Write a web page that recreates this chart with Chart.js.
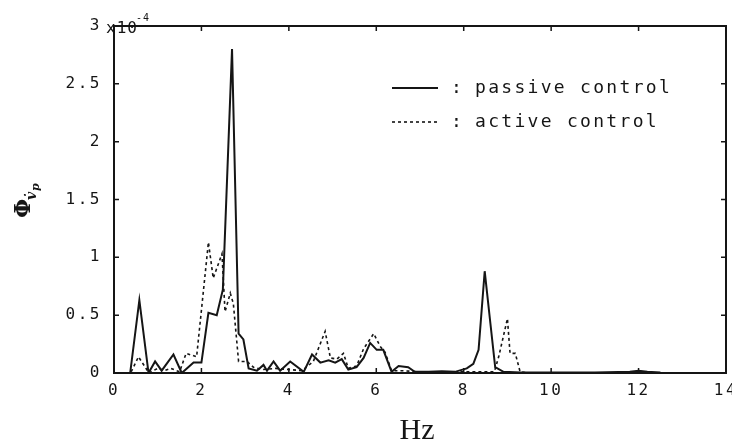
<!DOCTYPE html>
<html>
<head>
<meta charset="utf-8">
<script src="https://cdn.jsdelivr.net/npm/chart.js@4"></script>
<style>
  html, body { margin: 0; padding: 0; background: #fff; }
  #wrap { width: 732px; height: 443px; }
</style>
</head>
<body>
<div id="wrap"><canvas id="spectrum"></canvas></div>
<script>
// spectrum values in units of 1e-4
const passiveHz = [0, 0.37, 0.58, 0.79, 0.94, 1.09, 1.36, 1.55, 1.82, 2.0, 2.16, 2.35, 2.49, 2.7, 2.85, 2.96, 3.08, 3.27, 3.42, 3.5, 3.65, 3.8, 4.03, 4.34, 4.53, 4.72, 4.91, 5.06, 5.21, 5.36, 5.55, 5.71, 5.86, 6.01, 6.16, 6.35, 6.51, 6.73, 6.88, 7.2, 7.5, 7.8, 8.07, 8.22, 8.34, 8.48, 8.61, 8.72, 8.91, 9.3, 10, 11, 11.8, 12.0, 12.2, 12.5];
const passiveVal = [0, 0, 0.63, 0, 0.1, 0.02, 0.16, 0, 0.09, 0.09, 0.52, 0.5, 0.72, 2.8, 0.34, 0.29, 0.04, 0.02, 0.07, 0.02, 0.1, 0.02, 0.1, 0.01, 0.16, 0.09, 0.11, 0.09, 0.12, 0.03, 0.05, 0.13, 0.26, 0.2, 0.2, 0.01, 0.06, 0.05, 0.01, 0.01, 0.015, 0.01, 0.04, 0.08, 0.2, 0.88, 0.43, 0.05, 0.01, 0.005, 0.005, 0.005, 0.01, 0.02, 0.01, 0.005];

const activeHz = [0, 0.38, 0.56, 0.8, 1.0, 1.15, 1.3, 1.5, 1.65, 1.89, 2.16, 2.27, 2.47, 2.54, 2.66, 2.73, 2.85, 3.04, 3.19, 3.4, 3.7, 4.0, 4.3, 4.56, 4.83, 4.95, 5.1, 5.25, 5.36, 5.55, 5.71, 5.94, 6.09, 6.2, 6.35, 6.6, 7.0, 7.5, 8.0, 8.5, 8.7, 8.8, 9.0, 9.06, 9.18, 9.29, 9.5, 10.5, 11.5, 12.5];
const activeVal = [0, 0, 0.14, 0, 0.04, 0.02, 0.04, 0.01, 0.17, 0.14, 1.13, 0.82, 1.03, 0.53, 0.69, 0.6, 0.1, 0.1, 0.05, 0.03, 0.04, 0.03, 0.02, 0.1, 0.36, 0.13, 0.12, 0.17, 0.04, 0.06, 0.21, 0.34, 0.23, 0.18, 0.02, 0.02, 0.01, 0.01, 0.01, 0.01, 0.01, 0.14, 0.47, 0.17, 0.17, 0.01, 0, 0, 0, 0];

const seriesNames = ['passive control', 'active control'];
const xTicks = [0, 2, 4, 6, 8, 10, 12, 14];
const yTicks = [0, 0.5, 1, 1.5, 2, 2.5, 3];

const ink = '#151515';
const monoFont = { family: 'DejaVu Sans Mono', size: 16 };

const toPoints = (xs, ys) => xs.map((x, i) => ({ x, y: ys[i] }));

// frame, inward ticks, legend and axis titles
const decorations = {
  id: 'decorations',
  beforeDraw(chart) {
    chart.ctx.letterSpacing = '2.5px';
  },
  afterDraw(chart) {
    const { ctx, chartArea: a, scales } = chart;
    ctx.save();
    ctx.strokeStyle = ink;
    ctx.fillStyle = ink;

    // box
    ctx.lineWidth = 2;
    ctx.strokeRect(a.left, a.top, a.right - a.left, a.bottom - a.top);

    // ticks pointing into the box
    ctx.lineWidth = 1.5;
    ctx.beginPath();
    scales.x.ticks.forEach(t => {
      const px = scales.x.getPixelForValue(t.value);
      ctx.moveTo(px, a.bottom); ctx.lineTo(px, a.bottom - 5);
      ctx.moveTo(px, a.top); ctx.lineTo(px, a.top + 5);
    });
    scales.y.ticks.forEach(t => {
      const py = scales.y.getPixelForValue(t.value);
      ctx.moveTo(a.left, py); ctx.lineTo(a.left + 5, py);
      ctx.moveTo(a.right, py); ctx.lineTo(a.right - 5, py);
    });
    ctx.stroke();

    // exponent next to the top y label
    ctx.letterSpacing = '1px';
    ctx.font = '16px "DejaVu Sans Mono"';
    ctx.textAlign = 'left';
    ctx.textBaseline = 'alphabetic';
    ctx.fillText('x10', 106, 33);
    ctx.font = '10px "DejaVu Sans Mono"';
    ctx.fillText('-4', 136, 21);

    // legend
    ctx.letterSpacing = '2.3px';
    ctx.font = '18px "DejaVu Sans Mono"';
    ctx.textBaseline = 'middle';
    const rows = [88, 122];
    chart.data.datasets.forEach((ds, i) => {
      const y = rows[i];
      ctx.lineWidth = ds.borderWidth;
      ctx.setLineDash(ds.borderDash || []);
      ctx.beginPath();
      ctx.moveTo(392, y); ctx.lineTo(438, y);
      ctx.stroke();
      ctx.setLineDash([]);
      ctx.fillText(':', 451, y);
      ctx.fillText(ds.label, 475, y);
    });

    // x title
    ctx.letterSpacing = '0px';
    ctx.font = '30px "Liberation Serif"';
    ctx.textAlign = 'center';
    ctx.textBaseline = 'middle';
    ctx.fillText('Hz', (a.left + a.right) / 2 - 3, 431);

    // y title, rotated
    ctx.translate(30, 218);
    ctx.rotate(-Math.PI / 2);
    ctx.textAlign = 'left';
    ctx.textBaseline = 'alphabetic';
    ctx.font = 'bold 22px "DejaVu Serif"';
    ctx.fillText('Φ', 0, 0);
    ctx.font = 'italic bold 14px "DejaVu Serif"';
    ctx.fillText('v\u0307', 18, 6);
    ctx.font = 'italic bold 11px "DejaVu Serif"';
    ctx.fillText('p', 27, 9);
    ctx.restore();
  }
};

new Chart(document.getElementById('spectrum'), {
  type: 'scatter',
  data: {
    datasets: [
      {
        label: seriesNames[0],
        data: toPoints(passiveHz, passiveVal),
        showLine: true,
        borderColor: ink,
        borderWidth: 2,
        pointRadius: 0,
        tension: 0
      },
      {
        label: seriesNames[1],
        data: toPoints(activeHz, activeVal),
        showLine: true,
        borderColor: ink,
        borderWidth: 1.6,
        borderDash: [3, 3],
        pointRadius: 0,
        tension: 0
      }
    ]
  },
  options: {
    responsive: true,
    maintainAspectRatio: false,
    animation: false,
    layout: { padding: { top: 26, right: 6, left: 0, bottom: 0 } },
    plugins: {
      legend: { display: false },
      tooltip: { enabled: false }
    },
    scales: {
      x: {
        type: 'linear',
        min: xTicks[0],
        max: xTicks[xTicks.length - 1],
        afterBuildTicks: s => { s.ticks = xTicks.map(v => ({ value: v })); },
        ticks: { color: ink, font: monoFont, padding: 0, maxRotation: 0, callback: v => String(v) },
        grid: { display: false },
        border: { display: false },
        afterFit: s => { s.height = 70; s.paddingLeft = 0; s.paddingRight = 0; }
      },
      y: {
        min: yTicks[0],
        max: yTicks[yTicks.length - 1],
        afterBuildTicks: s => { s.ticks = yTicks.map(v => ({ value: v })); },
        ticks: { color: ink, font: monoFont, padding: 4, callback: v => String(v) },
        grid: { display: false },
        border: { display: false },
        afterFit: s => { s.width = 114; s.paddingTop = 0; s.paddingBottom = 0; }
      }
    }
  },
  plugins: [decorations]
});
</script>
</body>
</html>
